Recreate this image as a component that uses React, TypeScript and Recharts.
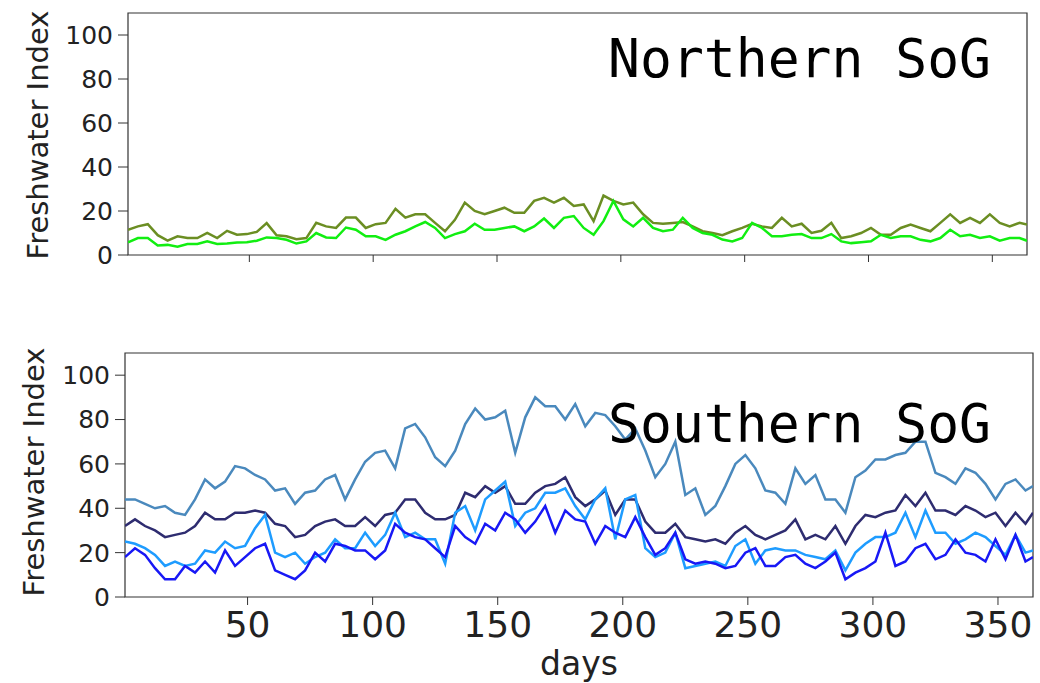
import { Line, LineChart, ReferenceArea, XAxis, YAxis } from "recharts";

// sampled every 4 days (last sample at day 364)
const northOlive = [
  11.5, 13, 14, 9, 6.5, 8.5, 7.7, 7.7, 10, 7.7, 11, 9.2, 9.5, 10.5, 14.5, 9, 8.5, 7.2, 7.7, 14.6, 13, 12.3, 17, 17, 12.3, 14, 14.6, 21, 17, 18.5, 18.5,
  14.6, 10.8, 16, 23.8, 20, 18.5, 20, 21.5, 19.2, 19.2, 24.6, 26, 23.8, 26, 22.3, 23, 15.4, 27, 24.6, 23, 23.8, 18.5, 14.6, 14.2, 14.6, 15, 13, 10.8, 10, 9,
  10.8, 12.3, 14.2, 13, 12.3, 16.9, 13, 14.2, 10, 11, 14.6, 7.7, 8.5, 10, 12.3, 9.2, 9.2, 12.3, 13.8, 12.3, 10.8, 14.6, 18.5, 14.6, 16.9, 14.6, 18.5, 14.6, 13, 14.6, 13.8,
];
const northLime = [
  5.8, 7.7, 7.7, 4.3, 4.6, 3.8, 5, 5, 6.2, 5, 5.2, 5.7, 5.8, 6.5, 8, 7.7, 6.9, 5.2, 6.2, 10, 8, 7.7, 12.5, 11.5, 8.5, 8.5, 6.9, 9.2, 10.8, 13, 15,
  12.3, 7.7, 9.5, 10.8, 14.2, 11.5, 11.5, 12.3, 13, 10.8, 13, 16.6, 12.3, 16.9, 17.7, 12.3, 9.2, 15.4, 24.6, 16.2, 13, 16.9, 12.3, 10.8, 11.5, 16.9, 12.3, 10, 9.2, 7,
  6.2, 7.7, 14.6, 12.3, 8.5, 8.5, 9.2, 9.5, 7.7, 7.7, 9.5, 6.2, 5.4, 5.8, 6.2, 9.2, 7.7, 8.5, 8.5, 6.9, 6.2, 7.7, 11.5, 8.5, 9.2, 7.7, 8.5, 6.5, 7.7, 7.7, 6.5,
];

const southSteel = [
  44, 44, 42, 40, 41, 38, 37, 44, 53, 49, 52, 59, 58, 55, 53, 48, 49, 42, 47, 48, 53, 55, 44,
  53, 61, 65, 66, 58, 76, 78, 72, 63, 59, 66, 78, 85, 80, 81, 84, 65, 81, 90, 86, 86, 80,
  87, 77, 83, 82, 77, 71, 76, 66, 54, 60, 70, 46, 49, 37, 41, 50, 60, 64, 58, 48, 47, 42,
  58, 51, 55, 44, 44, 38, 54, 57, 62, 62, 64, 65, 70, 70, 56, 54, 51, 58, 56, 51, 44, 51, 53, 48, 50,
];
const southNavy = [
  32, 35, 32, 30, 27, 28, 29, 32, 38, 35, 35, 38, 38, 39, 38, 33, 32, 27, 28, 32, 34, 35, 32,
  32, 36, 32, 37, 38, 44, 44, 38, 35, 35, 37, 47, 45, 50, 47, 50, 42, 42, 47, 50, 51, 54,
  45, 41, 44, 48, 37, 44, 44, 34, 29, 29, 33, 27, 26, 25, 26, 24, 29, 32, 28, 26, 28, 30,
  35, 26, 28, 26, 32, 24, 32, 37, 36, 38, 39, 46, 41, 47, 39, 39, 37, 41, 39, 36, 38, 32, 38, 33, 38,
];
const southLight = [
  25, 24, 22, 19, 14, 16, 14, 15, 21, 20, 25, 22, 23, 31, 37, 20, 18, 20, 15, 18, 20, 26, 22,
  22, 29, 23, 28, 38, 27, 29, 26, 26, 15, 38, 41, 30, 44, 48, 52, 32, 38, 40, 47, 47, 49,
  41, 35, 44, 49, 26, 44, 46, 22, 18, 20, 29, 13, 14, 15, 16, 14, 23, 26, 15, 21, 22, 21,
  21, 19, 18, 17, 21, 12, 20, 24, 27, 27, 29, 38, 27, 39, 29, 29, 24, 26, 29, 27, 23, 19, 28, 20, 21,
];
const southBlue = [
  18, 22, 19, 13, 8, 8, 14, 11, 16, 11, 21, 14, 18, 22, 24, 12, 10, 8, 12, 20, 16, 24, 23,
  21, 21, 17, 21, 33, 29, 27, 26, 22, 18, 32, 27, 24, 33, 30, 38, 35, 29, 34, 41, 29, 39,
  35, 34, 24, 32, 29, 27, 36, 27, 19, 22, 29, 17, 15, 16, 15, 13, 14, 20, 22, 14, 14, 18,
  19, 15, 13, 16, 20, 8, 11, 13, 16, 29, 14, 16, 22, 24, 17, 19, 26, 20, 19, 16, 26, 17, 28, 16, 18,
];

const days = northOlive.map((_, i) => Math.min(1 + i * 4, 364));
const dayTicks = [50, 100, 150, 200, 250, 300, 350];
const valueTicks = [0, 20, 40, 60, 80, 100];

const northData = days.map((day, i) => ({ day, olive: northOlive[i], lime: northLime[i] }));
const southData = days.map((day, i) => ({
  day,
  steel: southSteel[i],
  navy: southNavy[i],
  light: southLight[i],
  blue: southBlue[i],
}));

const font = "DejaVu Sans";
const ink = "#222";
const spine = "#333";

export default function App() {
  return (
    <div
      style={{
        position: "absolute",
        left: 0,
        top: 0,
        width: 1040,
        height: 683,
        background: "#fff",
        fontFamily: font,
        overflow: "hidden",
      }}
    >
      <div style={{ position: "absolute", left: 0, top: 0 }}>
        <LineChart width={1040} height={275} data={northData} margin={{ top: 13, right: 13, bottom: 0, left: 0 }}>
          <XAxis
            dataKey="day"
            type="number"
            domain={[1, 364]}
            allowDataOverflow
            ticks={dayTicks}
            height={20}
            axisLine={false}
            tickSize={7}
            tickLine={{ stroke: spine }}
            tickFormatter={() => ""}
          />
          <YAxis
            type="number"
            domain={[0, 110]}
            allowDataOverflow
            ticks={valueTicks}
            width={128}
            axisLine={false}
            tickSize={10}
            tickMargin={5}
            tickLine={{ stroke: spine }}
            tick={{ fontSize: 25, fill: ink, fontFamily: font }}
          />
          <Line dataKey="olive" stroke="#6b8e23" strokeWidth={2.5} dot={false} type="linear" isAnimationActive={false} />
          <Line dataKey="lime" stroke="#11ee11" strokeWidth={2.5} dot={false} type="linear" isAnimationActive={false} />
          <ReferenceArea x1={1} x2={364} y1={0} y2={110} fill="none" stroke={spine} strokeWidth={1.2} />
        </LineChart>
      </div>

      <div style={{ position: "absolute", left: 0, top: 340 }}>
        <LineChart width={1040} height={343} data={southData} margin={{ top: 13, right: 7, bottom: 0, left: 0 }}>
          <XAxis
            dataKey="day"
            type="number"
            domain={[1, 364]}
            allowDataOverflow
            ticks={dayTicks}
            height={86}
            axisLine={false}
            tickSize={8}
            tickMargin={6}
            tickLine={{ stroke: spine }}
            tick={{ fontSize: 36, fill: ink, fontFamily: font }}
          />
          <YAxis
            type="number"
            domain={[0, 110]}
            allowDataOverflow
            ticks={valueTicks}
            width={125}
            axisLine={false}
            tickSize={10}
            tickMargin={5}
            tickLine={{ stroke: spine }}
            tick={{ fontSize: 25, fill: ink, fontFamily: font }}
          />
          <Line dataKey="steel" stroke="#4a89bd" strokeWidth={2.5} dot={false} type="linear" isAnimationActive={false} />
          <Line dataKey="navy" stroke="#2e2c70" strokeWidth={2.5} dot={false} type="linear" isAnimationActive={false} />
          <Line dataKey="light" stroke="#1e9cff" strokeWidth={2.5} dot={false} type="linear" isAnimationActive={false} />
          <Line dataKey="blue" stroke="#1818f5" strokeWidth={2.5} dot={false} type="linear" isAnimationActive={false} />
          <ReferenceArea x1={1} x2={364} y1={0} y2={110} fill="none" stroke={spine} strokeWidth={1.2} />
        </LineChart>
      </div>

      <svg
        width={1040}
        height={683}
        style={{ position: "absolute", left: 0, top: 0, pointerEvents: "none" }}
      >
        <text transform="translate(48,135) rotate(-90)" textAnchor="middle" fontSize={29} fill={ink} fontFamily={font}>
          Freshwater Index
        </text>
        <text transform="translate(43.5,472) rotate(-90)" textAnchor="middle" fontSize={29} fill={ink} fontFamily={font}>
          Freshwater Index
        </text>
        <text x={579} y={675} textAnchor="middle" fontSize={33} fill={ink} fontFamily={font}>
          days
        </text>
        <text x={991} y={77} textAnchor="end" fontSize={53} fill="#000" fontFamily="DejaVu Sans Mono">
          Northern SoG
        </text>
        <text x={991} y={442} textAnchor="end" fontSize={53} fill="#000" fontFamily="DejaVu Sans Mono">
          Southern SoG
        </text>
      </svg>
    </div>
  );
}
